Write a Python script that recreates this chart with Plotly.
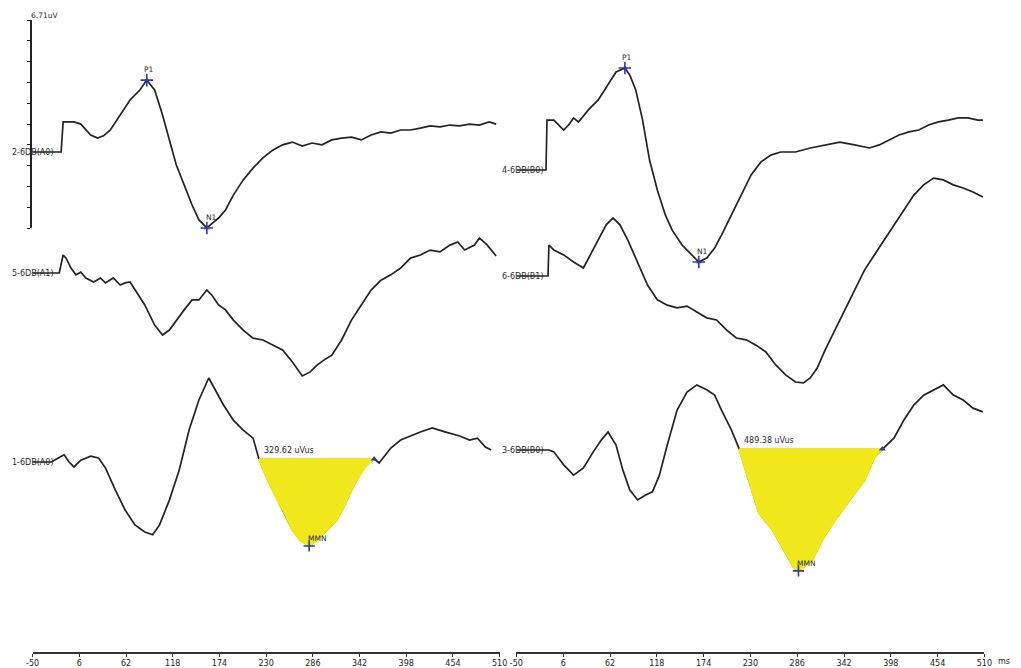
import numpy as np
import plotly.graph_objects as go

# ---------------- data (time in ms, amplitude in uV) ----------------
TICKS = [-50, 6, 62, 118, 174, 230, 286, 342, 398, 454, 510]
SCALE_UV = 6.71

# left column
A0_TOP_NAME = "2-6DB(A0)"
A0_TOP_T = [-50, -15.8, -13.4, -0.4, 7.8, 19.6, 27.9, 35.0, 43.2, 55.0, 66.8, 78.6, 86.9, 96.3,
            105.8, 114.0, 122.3, 131.7, 141.2, 149.4, 158.9, 167.1, 173.0, 181.3, 190.7, 202.5,
            214.3, 226.1, 237.9, 249.7, 261.5, 273.3, 285.1, 296.9, 308.7, 320.5, 332.3, 344.1,
            355.9, 367.7, 379.5, 391.3, 403.1, 414.9, 426.7, 438.5, 450.3, 462.1, 473.9, 485.7,
            497.5, 505.8]
A0_TOP_UV = [0, 0, 0.97, 0.97, 0.90, 0.55, 0.45, 0.52, 0.71, 1.19, 1.68, 2.00, 2.32, 2.00,
             1.19, 0.39, -0.42, -1.06, -1.71, -2.19, -2.45, -2.26, -2.13, -1.87, -1.39, -0.90,
             -0.52, -0.19, 0.06, 0.23, 0.32, 0.19, 0.29, 0.23, 0.39, 0.45, 0.48, 0.39,
             0.55, 0.65, 0.61, 0.71, 0.71, 0.77, 0.84, 0.81, 0.87, 0.84, 0.90, 0.87,
             0.97, 0.90]

A1_NAME = "5-6DB(A1)"
A1_T = [-50, -18.1, -13.4, -9.9, -4.0, 1.9, 7.8, 13.7, 23.2, 31.4, 37.3, 46.8, 55.0, 60.9,
        66.8, 72.7, 84.5, 96.3, 105.8, 114.0, 122.3, 131.7, 141.2, 149.4, 158.9, 164.8, 173.0,
        181.3, 190.7, 202.5, 214.3, 226.1, 237.9, 249.7, 261.5, 273.3, 282.8, 291.0, 299.3,
        308.7, 320.5, 332.3, 344.1, 355.9, 367.7, 379.5, 391.3, 403.1, 414.9, 426.7, 438.5,
        450.3, 459.8, 468.0, 479.8, 485.7, 495.2, 505.8]
A1_UV = [0, 0, 0.58, 0.48, 0.16, -0.06, 0.03, -0.16, -0.29, -0.16, -0.32, -0.16, -0.39, -0.32,
         -0.29, -0.55, -1.03, -1.68, -2.00, -1.84, -1.52, -1.19, -0.87, -0.87, -0.55, -0.71, -1.03,
         -1.19, -1.52, -1.84, -2.10, -2.16, -2.32, -2.48, -2.87, -3.32, -3.19, -2.97, -2.81,
         -2.65, -2.16, -1.52, -1.03, -0.55, -0.23, -0.06, 0.16, 0.48, 0.58, 0.74, 0.68,
         0.90, 1.00, 0.74, 0.90, 1.13, 0.90, 0.55]

A0_DIFF_NAME = "1-6DB(A0)"
A0_DIFF_T = [-50, -27.6, -19.3, -12.2, -6.3, -0.4, 7.8, 19.6, 29.1, 37.3, 49.1, 60.9, 72.7,
             84.5, 94.0, 102.2, 114.0, 125.8, 137.6, 149.4, 161.2, 169.5, 178.9, 190.7, 202.5,
             214.3, 221.4, 232.0, 243.8, 253.3, 261.5, 271.0, 281.6, 291.0, 302.8, 314.6, 324.0,
             332.3, 341.8, 350.0, 359.5, 365.4, 379.5, 391.3, 414.9, 429.1, 444.4, 462.1, 473.9,
             483.4, 492.8, 499.9]
A0_DIFF_UV = [0, 0, 0.13, 0.23, 0, -0.16, 0.06, 0.19, 0.13, -0.19, -0.90, -1.55, -2.03,
              -2.26, -2.35, -2.03, -1.23, -0.26, 1.03, 2.00, 2.71, 2.32, 1.84, 1.35, 1.03,
              0.77, 0.10, -0.58, -1.23, -1.71, -2.19, -2.52, -2.71, -2.52, -2.19, -1.87, -1.39,
              -0.90, -0.42, -0.10, 0.10, -0.03, 0.45, 0.71, 0.97, 1.10, 0.97, 0.84, 0.71,
              0.77, 0.48, 0.39]
A_MMN_WINDOW = [221.4, 359.5]
A_MMN_AREA = "329.62 uVus"

# right column
B0_TOP_NAME = "4-6DB(B0)"
B0_TOP_T = [-50, -14.6, -13.4, -5.2, 0.7, 6.6, 12.5, 18.4, 24.3, 36.1, 47.9, 59.7, 69.2, 79.8,
            85.7, 92.8, 101.0, 109.3, 118.7, 128.2, 136.4, 148.2, 160.0, 168.3, 177.7, 187.2,
            195.4, 207.2, 219.0, 230.8, 242.6, 254.4, 266.2, 283.9, 301.6, 319.3, 337.0, 354.7,
            372.4, 384.2, 396.0, 407.8, 419.6, 431.4, 443.2, 455.0, 466.8, 478.6, 490.4, 502.2,
            508.1]
B0_TOP_UV = [0, 0, 1.61, 1.61, 1.45, 1.29, 1.45, 1.68, 1.55, 1.94, 2.26, 2.74, 3.16, 3.29,
             3.06, 2.58, 1.61, 0.32, -0.65, -1.45, -1.94, -2.42, -2.74, -2.97, -2.84, -2.52,
             -2.10, -1.45, -0.81, -0.16, 0.26, 0.48, 0.58, 0.58, 0.71, 0.81, 0.90, 0.81,
             0.71, 0.81, 0.97, 1.13, 1.23, 1.29, 1.45, 1.55, 1.61, 1.68, 1.68, 1.61,
             1.61]

B1_NAME = "6-6DB(B1)"
B1_T = [-50, -12.2, -11.1, -5.2, 6.6, 18.4, 30.2, 38.5, 47.9, 57.4, 65.6, 73.9, 83.3, 95.1,
        106.9, 118.7, 130.5, 142.3, 154.1, 165.9, 177.7, 189.5, 201.3, 213.1, 224.9, 236.7,
        248.5, 260.3, 272.1, 283.9, 293.4, 301.6, 309.9, 319.3, 331.1, 342.9, 354.7, 366.5,
        378.3, 390.1, 401.9, 413.7, 425.5, 437.3, 449.1, 460.9, 472.7, 484.5, 496.3, 508.1]
B1_UV = [0, 0, 1.00, 0.84, 0.68, 0.45, 0.26, 0.68, 1.16, 1.65, 1.87, 1.65, 1.16, 0.45,
         -0.29, -0.77, -0.94, -1.03, -0.97, -1.16, -1.35, -1.42, -1.74, -2.00, -2.06, -2.23,
         -2.45, -2.87, -3.19, -3.42, -3.45, -3.29, -2.97, -2.39, -1.74, -1.10, -0.45, 0.19,
         0.68, 1.16, 1.65, 2.13, 2.61, 2.94, 3.16, 3.10, 2.94, 2.84, 2.71, 2.55]

B0_DIFF_NAME = "3-6DB(B0)"
B0_DIFF_T = [-50, -11.1, -5.2, 6.6, 18.4, 30.2, 42.0, 51.5, 59.7, 69.2, 77.4, 85.7, 95.1,
             104.6, 112.8, 121.1, 130.5, 142.3, 154.1, 165.9, 177.7, 187.2, 195.4, 207.2,
             216.7, 230.8, 240.3, 256.8, 272.1, 281.6, 287.5, 304.0, 315.8, 331.1, 351.2,
             366.5, 378.3, 387.8, 401.9, 413.7, 425.5, 437.3, 449.1, 460.9, 472.7, 484.5,
             496.3, 508.1]
B0_DIFF_UV = [0, 0, -0.06, -0.48, -0.81, -0.58, -0.06, 0.32, 0.58, 0.16, -0.65, -1.29, -1.61,
              -1.45, -1.35, -0.81, 0.16, 1.29, 1.87, 2.10, 1.94, 1.77, 1.29, 0.65,
              0.03, -1.19, -2.03, -2.58, -3.32, -3.77, -3.90, -3.55, -2.90, -2.26, -1.52,
              -0.97, -0.23, 0.03, 0.39, 0.97, 1.45, 1.77, 1.94, 2.10, 1.77, 1.61,
              1.35, 1.23]
B_MMN_WINDOW = [216.7, 387.8]
B_MMN_AREA = "489.38 uVus"

P1_WINDOW = [50, 120]
N1_WINDOW = [120, 200]

# ---------------- layout constants ----------------
W, H = 1021, 668
MB = 16
PLOT_H = H - MB
PX_PER_UV = 31.0
YMAX = PLOT_H / PX_PER_UV

def ypos(py):
    return (PLOT_H - py) / PX_PER_UV

LINE_C = "#222222"
BLUE = "#2a3aa8"
FILL_C = "#f1e81c"
TXT_C = "#2a2a2a"
FONT = "DejaVu Sans, Arial, sans-serif"

fig = go.Figure()
annotations = []

def add_wave(t, uv, base, xa):
    y = base + np.asarray(uv, float)
    fig.add_trace(go.Scatter(x=t, y=y, xaxis=xa, yaxis="y", mode="lines",
                             line=dict(color=LINE_C, width=1.7), hoverinfo="skip",
                             showlegend=False))
    return np.asarray(t, float), y

def label_trace(name, base, xpaper):
    annotations.append(dict(text=name, x=xpaper, y=base, xref="paper", yref="y",
                            xanchor="left", yanchor="middle", showarrow=False, borderpad=0,
                            font=dict(size=8, color=TXT_C, family=FONT)))

def peak_marker(t, y, win, kind, name, xa, tx_shift):
    m = (t >= win[0]) & (t <= win[1])
    idx = np.where(m)[0]
    k = idx[np.argmax(y[idx])] if kind == "max" else idx[np.argmin(y[idx])]
    fig.add_trace(go.Scatter(x=[t[k]], y=[y[k]], xaxis=xa, yaxis="y", mode="markers",
                             marker=dict(symbol="cross-thin", size=9,
                                         line=dict(color=BLUE, width=1.6)),
                             hoverinfo="skip", showlegend=False))
    fig.add_trace(go.Scatter(x=[t[k]], y=[y[k]], xaxis=xa, yaxis="y", mode="markers",
                             marker=dict(symbol="triangle-up", size=5, color=BLUE),
                             hoverinfo="skip", showlegend=False))
    annotations.append(dict(text=name, x=t[k], y=y[k], xref=xa, yref="y",
                            xanchor="center", yanchor="bottom", xshift=tx_shift, yshift=5,
                            showarrow=False, borderpad=0,
                            font=dict(size=7.5, color=TXT_C, family=FONT)))

def mmn_fill(t, y, win, area_txt, xa):
    m = (t >= win[0] - 0.01) & (t <= win[1] + 0.01)
    fx, fy = t[m], y[m]
    fig.add_trace(go.Scatter(x=list(fx) + [fx[0]], y=list(fy) + [fy[0]], xaxis=xa, yaxis="y",
                             mode="lines", fill="toself", fillcolor=FILL_C,
                             line=dict(color=FILL_C, width=2.2), hoverinfo="skip",
                             showlegend=False))
    fig.add_trace(go.Scatter(x=[fx[-1]], y=[fy[-1]], xaxis=xa, yaxis="y", mode="markers",
                             marker=dict(symbol="triangle-up", size=6, color=BLUE),
                             hoverinfo="skip", showlegend=False))
    annotations.append(dict(text=area_txt, x=fx[0], y=fy[0], xref=xa, yref="y",
                            xanchor="left", yanchor="bottom", xshift=4, yshift=3,
                            showarrow=False, borderpad=0,
                            font=dict(size=8, color=TXT_C, family=FONT)))
    k = int(np.argmin(fy))
    fig.add_trace(go.Scatter(x=[fx[k]], y=[fy[k]], xaxis=xa, yaxis="y", mode="markers",
                             marker=dict(symbol="cross-thin", size=8,
                                         line=dict(color=BLUE, width=1.6)),
                             hoverinfo="skip", showlegend=False))
    annotations.append(dict(text="MMN", x=fx[k], y=fy[k], xref=xa, yref="y",
                            xanchor="left", yanchor="bottom", xshift=-2, yshift=2,
                            showarrow=False, borderpad=0,
                            font=dict(size=7.5, color=TXT_C, family=FONT)))

# ---- left column ----
base = ypos(152)
t, y = add_wave(A0_TOP_T, A0_TOP_UV, base, "x")
label_trace(A0_TOP_NAME, base, 4 / W)
peak_marker(t, y, P1_WINDOW, "max", "P1", "x", 2)
peak_marker(t, y, N1_WINDOW, "min", "N1", "x", 5)

base = ypos(273)
add_wave(A1_T, A1_UV, base, "x")
label_trace(A1_NAME, base, 4 / W)

base = ypos(462)
t, y = add_wave(A0_DIFF_T, A0_DIFF_UV, base, "x")
label_trace(A0_DIFF_NAME, base, 4 / W)
mmn_fill(t, y, A_MMN_WINDOW, A_MMN_AREA, "x")

# ---- right column ----
base = ypos(170)
t, y = add_wave(B0_TOP_T, B0_TOP_UV, base, "x2")
label_trace(B0_TOP_NAME, base, 501 / W)
peak_marker(t, y, P1_WINDOW, "max", "P1", "x2", 2)
peak_marker(t, y, N1_WINDOW, "min", "N1", "x2", 4)

base = ypos(276)
add_wave(B1_T, B1_UV, base, "x2")
label_trace(B1_NAME, base, 501 / W)

base = ypos(450)
t, y = add_wave(B0_DIFF_T, B0_DIFF_UV, base, "x2")
label_trace(B0_DIFF_NAME, base, 501 / W)
mmn_fill(t, y, B_MMN_WINDOW, B_MMN_AREA, "x2")

# scale bar axis holder
fig.add_trace(go.Scatter(x=[None], y=[None], xaxis="x", yaxis="y2", showlegend=False))

annotations.append(dict(text=f"{SCALE_UV}uV", x=38 / W, y=ypos(15), xref="paper", yref="y",
                        xanchor="center", yanchor="middle", showarrow=False,
                        font=dict(size=7.5, color=TXT_C, family=FONT)))
annotations.append(dict(text="ms", x=1004 / W, y=-9 / PLOT_H, xref="paper", yref="paper",
                        xanchor="left", yanchor="middle", showarrow=False,
                        font=dict(size=8, color=TXT_C, family=FONT)))

xcommon = dict(range=[-50, 510], tickvals=TICKS, ticktext=[str(v) for v in TICKS],
               showgrid=False, zeroline=False, showline=True, linecolor="#333", linewidth=1.6,
               ticks="outside", ticklen=3, tickwidth=1.3, tickcolor="#333",
               tickfont=dict(size=8, color="#1a1a1a", family=FONT), anchor="y")

fig.update_layout(
    width=W, height=H,
    margin=dict(l=0, r=0, t=0, b=MB),
    paper_bgcolor="white", plot_bgcolor="rgba(0,0,0,0)",
    showlegend=False,
    xaxis=dict(domain=[26 / W, 500 / W], **xcommon),
    xaxis2=dict(domain=[517 / W, 992 / W], **xcommon),
    yaxis=dict(range=[0, YMAX], visible=False, fixedrange=True),
    yaxis2=dict(domain=[(PLOT_H - 228) / PLOT_H, (PLOT_H - 20) / PLOT_H],
                range=[0, SCALE_UV], anchor="free", position=24 / W,
                showline=True, linecolor="#222", linewidth=2,
                ticks="outside", ticklen=3, tickwidth=1, tickcolor="#222",
                tick0=0, dtick=SCALE_UV / 10, showticklabels=False,
                showgrid=False, zeroline=False),
    annotations=annotations,
)

fig.write_html("out.html", config={"displayModeBar": False},
               post_script="document.body.style.margin='0px';")
